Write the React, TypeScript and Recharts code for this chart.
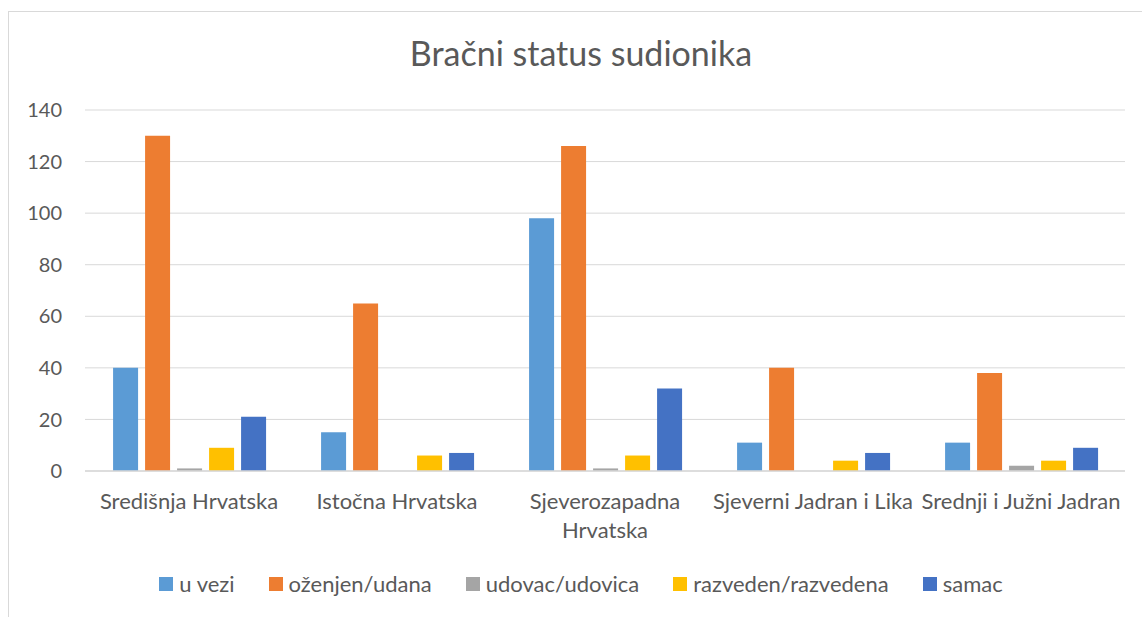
import { BarChart, Bar, CartesianGrid, XAxis, YAxis } from "recharts";

const categories = [
  "Središnja Hrvatska",
  "Istočna Hrvatska",
  "Sjeverozapadna Hrvatska",
  "Sjeverni Jadran i Lika",
  "Srednji i Južni Jadran",
];

// how each category label is broken into lines under the axis
const categoryLines = [
  ["Središnja Hrvatska"],
  ["Istočna Hrvatska"],
  ["Sjeverozapadna", "Hrvatska"],
  ["Sjeverni Jadran i Lika"],
  ["Srednji i Južni Jadran"],
];

const uVezi = [40, 15, 98, 11, 11];
const ozenjen = [130, 65, 126, 40, 38];
const udovac = [1, 0, 1, 0, 2];
const razveden = [9, 6, 6, 4, 4];
const samac = [21, 7, 32, 7, 9];

const yTicks = [0, 20, 40, 60, 80, 100, 120, 140];

const series = [
  { key: "uVezi", name: "u vezi", color: "#5B9BD5", values: uVezi },
  { key: "ozenjen", name: "oženjen/udana", color: "#ED7D31", values: ozenjen },
  { key: "udovac", name: "udovac/udovica", color: "#A5A5A5", values: udovac },
  { key: "razveden", name: "razveden/razvedena", color: "#FFC000", values: razveden },
  { key: "samac", name: "samac", color: "#4472C4", values: samac },
];

const data = categories.map((name, i) => {
  const row: Record<string, string | number> = { name };
  series.forEach((s) => {
    row[s.key] = s.values[i];
  });
  return row;
});

const FONT = "Lato, 'Open Sans', sans-serif";
const TEXT = "#595959";

type TickProps = {
  x?: number;
  y?: number;
  index?: number;
};

function CategoryTick({ x = 0, y = 0, index = 0 }: TickProps) {
  const lines = categoryLines[index] ?? [categories[index]];
  return (
    <text
      x={x}
      y={y}
      textAnchor="middle"
      fill={TEXT}
      fontSize={22}
      fontFamily={FONT}
    >
      {lines.map((line, i) => (
        <tspan key={i} x={x} y={y + 32 + i * 29}>
          {line}
        </tspan>
      ))}
    </text>
  );
}

export default function App() {
  return (
    <div
      style={{
        position: "fixed",
        left: 0,
        top: 0,
        width: 1142,
        height: 617,
        background: "#ffffff",
        overflow: "hidden",
        fontFamily: FONT,
      }}
    >
      {/* chart area border, right/bottom edges fall outside the picture */}
      <div
        style={{
          position: "absolute",
          left: 8,
          top: 11,
          width: 1160,
          height: 640,
          border: "1px solid #d9d9d9",
        }}
      />
      <div
        style={{
          position: "absolute",
          left: 8,
          width: 1146,
          top: 32,
          textAlign: "center",
          fontSize: 34,
          color: TEXT,
        }}
      >
        Bračni status sudionika
      </div>
      <div style={{ position: "absolute", left: 0, top: 0 }}>
        <BarChart
          width={1142}
          height={617}
          data={data}
          margin={{ top: 110, right: 17, bottom: 86, left: 0 }}
          barCategoryGap="13.5%"
          barGap={7}
        >
          <CartesianGrid stroke="#d9d9d9" vertical={false} />
          <XAxis
            dataKey="name"
            height={60}
            tick={<CategoryTick />}
            tickLine={false}
            axisLine={{ stroke: "#d9d9d9", strokeWidth: 1.5 }}
            tickMargin={0}
            interval={0}
          />
          <YAxis
            width={85}
            domain={[0, 140]}
            ticks={yTicks}
            axisLine={false}
            tickLine={false}
            tickMargin={17}
            tick={{ fill: TEXT, fontSize: 20, fontFamily: FONT }}
          />
          {series.map((s) => (
            <Bar
              key={s.key}
              dataKey={s.key}
              name={s.name}
              fill={s.color}
              isAnimationActive={false}
            />
          ))}
        </BarChart>
      </div>
      <div
        style={{
          position: "absolute",
          left: 8,
          width: 1146,
          top: 570,
          display: "flex",
          justifyContent: "center",
          gap: 34,
          fontSize: 22,
          color: TEXT,
        }}
      >
        {series.map((s) => (
          <div key={s.key} style={{ display: "flex", alignItems: "center" }}>
            <span
              style={{
                display: "inline-block",
                width: 14,
                height: 14,
                background: s.color,
                marginRight: 6,
              }}
            />
            <span>{s.name}</span>
          </div>
        ))}
      </div>
    </div>
  );
}
